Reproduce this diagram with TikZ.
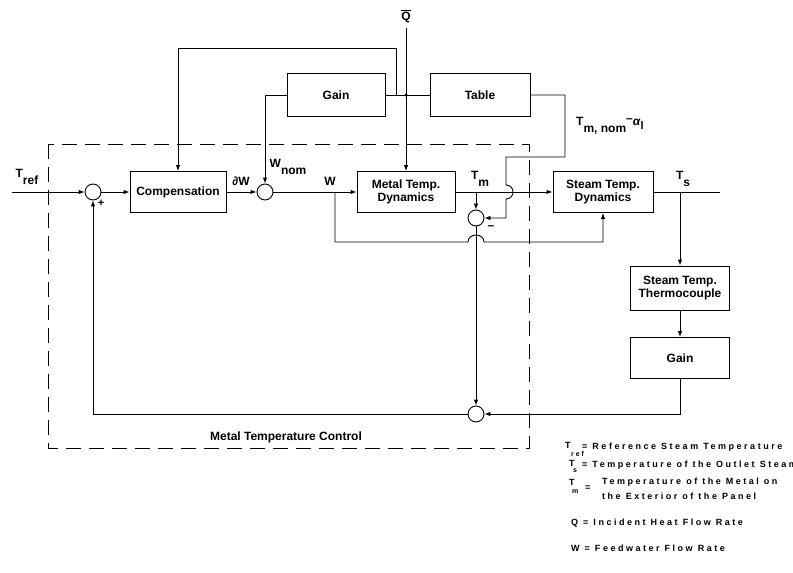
\documentclass[tikz,border=0pt]{standalone}
\usepackage{fontspec}
\setmainfont{Liberation Sans}
\newfontfamily\legfont[LetterSpace=28]{Liberation Sans}
\usetikzlibrary{arrows.meta}
\newcommand{\bfont}{\fontsize{12}{13.5}\selectfont\bfseries}
\newcommand{\sbfont}{\fontsize{11}{12}\selectfont\bfseries}
\tikzset{
  blk/.style={draw, line width=0.9pt, align=center, font=\bfont, inner sep=0pt},
  sumc/.style={circle, draw, line width=0.9pt, minimum size=16pt, inner sep=0pt},
  sig/.style={line width=0.9pt},
  arr/.style={sig, -{Latex[length=6pt,width=4.5pt]}},
  lbl/.style={font=\bfont, inner sep=0pt},
  leg/.style={font=\legfont\fontsize{9}{10}\selectfont\bfseries, anchor=west, inner sep=0pt},
  legsub/.style={font=\legfont\fontsize{7}{8}\selectfont\bfseries, anchor=west, inner sep=0pt},
  grp/.style={draw, line width=0.9pt, dash pattern=on 15pt off 8pt},
}
\begin{document}
\begin{tikzpicture}[x=1pt,y=-1pt]
\useasboundingbox (0,0) rectangle (793,573);
% blocks
\node[blk, minimum width=96pt, minimum height=41pt] (comp) at (178,192) {Compensation};
\node[blk, minimum width=98pt, minimum height=43pt] (gainA) at (336,95) {Gain};
\node[blk, minimum width=100pt, minimum height=43pt] (table) at (480,95) {Table};
\node[blk, minimum width=98pt, minimum height=41pt] (metal) at (406,192) {Metal Temp.\\Dynamics};
\node[blk, minimum width=100pt, minimum height=41pt] (steam) at (603,192) {Steam Temp.\\Dynamics};
\node[blk, minimum width=99pt, minimum height=44pt] (thermo) at (680,288) {Steam Temp.\\Thermocouple};
\node[blk, minimum width=99pt, minimum height=41pt] (gainB) at (680,358) {Gain};
% summing points
\node[sumc] (s1) at (93,192) {};
\node[sumc] (s2) at (265,192) {};
\node[sumc] (s3) at (476,218) {};
\node[sumc] (s4) at (476,414) {};
% free ends and branch points
\coordinate (tin) at (12,192);
\coordinate (qin) at (406,28);
\coordinate (sout) at (720,192);
\coordinate (jw) at (335,192);
\coordinate (jq) at (406,95);
\coordinate (jtop) at (396,95);
\coordinate (ctop) at (396,48);
\coordinate (jtm) at (476,192);
\coordinate (jts) at (680,192);
\coordinate (tbr) at (565,157);
\coordinate (tbh) at (506,185);
\coordinate (hmpA) at (468,242);
\coordinate (hmpB) at (484,242);

\draw[grp] (48,144) rectangle (529,448);

% signal paths
\draw[arr] (tin) -- (s1);
\draw[arr] (s1) -- (comp);
\draw[arr] (comp) -- (s2);
\draw[arr] (gainA.west) -| (s2);
\draw[arr] (s2) -- (metal);
\draw[arr] (qin) -- (metal);
\draw[sig] (gainA.east) -- (table.west);
\fill (jq) circle (1.6pt);
\draw[arr] (jtop) -- (ctop) -| (comp);
\draw[arr] (table.east) -| (tbr) -| (tbh) .. controls +(9.3,0) and +(9.3,0) .. ++(0,14) |- (s3);
\draw[arr] (metal) -- (steam);
\draw[arr] (jtm) -- (s3);
\draw[sig] (steam) -- (sout);
\draw[arr] (jts) -- (thermo);
\draw[arr] (thermo) -- (gainB);
\draw[arr] (gainB) |- (s4);
\draw[arr] (s3) -- (s4);
\draw[arr] (s4) -| (s1);
\draw[arr] (jw) |- (hmpA) .. controls +(0,-9.3) and +(0,-9.3) .. (hmpB) -| (steam);

% signal labels
\node[lbl] (lref) at (27,177) {T\raisebox{-1ex}{ref}};
\node[lbl] (lplus) at (101,203) {\sbfont +};
\node[lbl] (ldw) at (241,181) {∂W};
\node[lbl] (lwnom) at (288,167) {W\raisebox{-1.1ex}{nom}};
\node[lbl] (lw) at (330,181) {W};
\node[lbl] (lq) at (406,16) {$\overline{\hbox{Q}}$};
\node[lbl, anchor=west] (ltnom) at (576,126) {T\raisebox{-1.1ex}{m, nom}\raisebox{0.5ex}{--}\textit{α}\raisebox{-0.6ex}{\sbfont l}};
\node[lbl] (ltm) at (480,179) {T\raisebox{-1ex}{m}};
\node[lbl] (lminus) at (491,228) {--};
\node[lbl] (lts) at (683,179) {T\raisebox{-1ex}{s}};
\node[lbl] (lgrp) at (286,437) {Metal Temperature Control};

% legend
\node[leg] (kT1) at (565,445) {T};
\node[legsub] (kT1s) at (571,454) {ref};
\node[leg] (kT1t) at (582,447) {= Reference Steam Temperature};
\node[leg] (kT2) at (569,463) {T};
\node[legsub] (kT2s) at (573,471) {s};
\node[leg] (kT2t) at (582,465) {= Temperature of the Outlet Steam};
\node[leg] (kT3) at (569,482) {T};
\node[legsub] (kT3s) at (572,492) {m};
\node[leg] (kT3e) at (585,488) {=};
\node[leg, align=left] (kT3t) at (602,489) {Temperature of the Metal on\\[5pt]the Exterior of the Panel};
\node[leg] (kQ) at (571,523) {Q = Incident Heat Flow Rate};
\node[leg] (kW) at (571,548) {W = Feedwater Flow Rate};
\end{tikzpicture}
\end{document}
